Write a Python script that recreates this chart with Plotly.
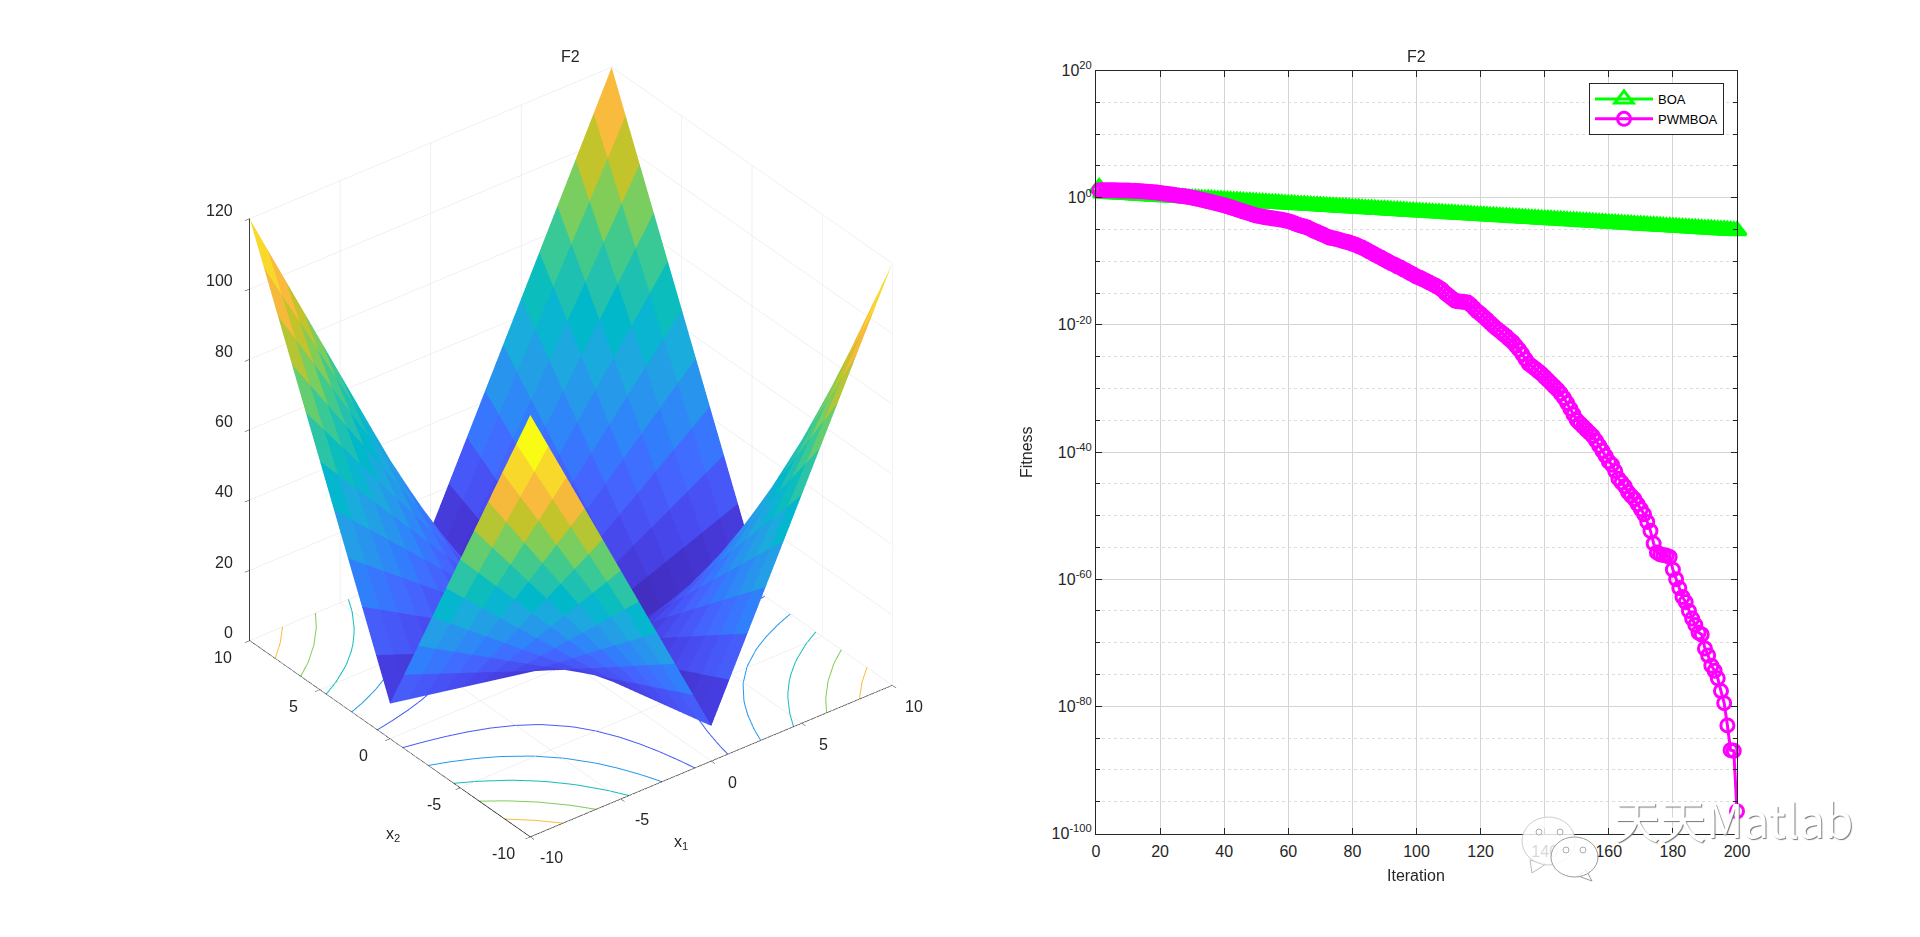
import plotly.graph_objects as go

# ---------- data: left surface ----------
GRID = list(range(-10, 11))
Z_QUADRANT = [
    [0, 1, 2, 3, 4, 5, 6, 7, 8, 9, 10],
    [1, 3, 5, 7, 9, 11, 13, 15, 17, 19, 21],
    [2, 5, 8, 11, 14, 17, 20, 23, 26, 29, 32],
    [3, 7, 11, 15, 19, 23, 27, 31, 35, 39, 43],
    [4, 9, 14, 19, 24, 29, 34, 39, 44, 49, 54],
    [5, 11, 17, 23, 29, 35, 41, 47, 53, 59, 65],
    [6, 13, 20, 27, 34, 41, 48, 55, 62, 69, 76],
    [7, 15, 23, 31, 39, 47, 55, 63, 71, 79, 87],
    [8, 17, 26, 35, 44, 53, 62, 71, 80, 89, 98],
    [9, 19, 29, 39, 49, 59, 69, 79, 89, 99, 109],
    [10, 21, 32, 43, 54, 65, 76, 87, 98, 109, 120],
]
CONTOUR_LEVELS = [20, 40, 60, 80, 100]
AXIS_TICKS = [-10, -5, 0, 5, 10]
Z_TICKS = [0, 20, 40, 60, 80, 100, 120]

# ---------- data: right convergence curves (log10 of fitness) ----------
ITER = list(range(1, 201))
BOA_LOG = [
    1.60, .72, .69, .66, .63, .60, .57, .54, .51, .48,
    .45, .42, .39, .36, .33, .30, .27, .24, .21, .18,
    .16, .13, .10, .07, .04, .01, -.02, -.05, -.08, -.11,
    -.14, -.17, -.20, -.23, -.26, -.29, -.32, -.35, -.38, -.41,
    -.44, -.47, -.50, -.53, -.56, -.59, -.62, -.65, -.68, -.71,
    -.74, -.77, -.80, -.83, -.86, -.89, -.92, -.95, -.98, -1.01,
    -1.04, -1.07, -1.10, -1.13, -1.16, -1.19, -1.22, -1.25, -1.28, -1.31,
    -1.34, -1.37, -1.40, -1.43, -1.46, -1.49, -1.52, -1.55, -1.58, -1.61,
    -1.64, -1.67, -1.70, -1.73, -1.76, -1.79, -1.82, -1.85, -1.88, -1.91,
    -1.94, -1.97, -2.00, -2.03, -2.06, -2.09, -2.12, -2.15, -2.18, -2.21,
    -2.24, -2.27, -2.30, -2.33, -2.36, -2.39, -2.42, -2.45, -2.48, -2.51,
    -2.54, -2.57, -2.60, -2.63, -2.66, -2.69, -2.72, -2.75, -2.78, -2.81,
    -2.84, -2.87, -2.90, -2.93, -2.96, -2.99, -3.02, -3.05, -3.08, -3.11,
    -3.14, -3.17, -3.20, -3.23, -3.26, -3.29, -3.32, -3.35, -3.38, -3.41,
    -3.44, -3.47, -3.50, -3.53, -3.56, -3.59, -3.62, -3.65, -3.68, -3.71,
    -3.74, -3.77, -3.80, -3.83, -3.86, -3.89, -3.92, -3.95, -3.98, -4.01,
    -4.04, -4.07, -4.10, -4.13, -4.16, -4.19, -4.22, -4.25, -4.28, -4.31,
    -4.34, -4.37, -4.40, -4.43, -4.46, -4.49, -4.52, -4.55, -4.58, -4.61,
    -4.64, -4.67, -4.70, -4.73, -4.76, -4.79, -4.82, -4.85, -4.88, -4.91,
    -4.94, -4.97, -5.00, -5.03, -5.06, -5.09, -5.12, -5.15, -5.18, -5.21,
]
PWMBOA_LOG = [
    1.15, 1.15, 1.15, 1.15, 1.15, 1.15, 1.14, 1.13, 1.13, 1.12,
    1.10, 1.08, 1.05, 1.02, .98, .94, .90, .85, .80, .73,
    .67, .60, .53, .46, .39, .32, .25, .18, .09, .00,
    -.10, -.22, -.34, -.46, -.58, -.70, -.82, -.94, -1.06, -1.20,
    -1.35, -1.52, -1.68, -1.85, -2.00, -2.18, -2.32, -2.48, -2.65, -2.80,
    -2.90, -3.00, -3.08, -3.16, -3.24, -3.30, -3.38, -3.48, -3.58, -3.70,
    -3.85, -4.05, -4.25, -4.40, -4.55, -4.70, -4.95, -5.20, -5.40, -5.65,
    -5.85, -6.10, -6.30, -6.40, -6.50, -6.65, -6.80, -6.95, -7.05, -7.25,
    -7.40, -7.65, -7.85, -8.10, -8.40, -8.65, -8.95, -9.20, -9.45, -9.75,
    -10.0, -10.3, -10.5, -10.8, -11.0, -11.3, -11.55, -11.85, -12.1, -12.4,
    -12.6, -12.85, -13.1, -13.35, -13.6, -13.85, -14.15, -14.5, -15.0, -15.4,
    -15.8, -16.2, -16.3, -16.35, -16.4, -16.5, -16.9, -17.4, -17.9, -18.3,
    -18.75, -19.2, -19.7, -20.15, -20.6, -21.0, -21.4, -21.8, -22.3, -22.7,
    -23.3, -23.9, -24.6, -25.4, -26.1, -26.5, -26.9, -27.3, -27.7, -28.2,
    -28.7, -29.2, -29.7, -30.2, -30.8, -31.5, -32.3, -33.2, -34.1, -35.0,
    -35.5, -36.0, -36.5, -37.0, -37.5, -38.2, -39.0, -39.8, -40.6, -41.5,
    -42.0, -43.0, -44.2, -44.8, -45.4, -46.3, -46.9, -47.4, -48.2, -49.0,
    -49.8, -51.0, -52.4, -54.4, -55.8, -56.1, -56.2, -56.3, -56.5, -58.5,
    -60.0, -61.4, -62.8, -63.6, -65.0, -66.2, -67.2, -68.4, -68.7, -70.9,
    -72.0, -73.6, -74.4, -75.6, -77.6, -79.5, -83.0, -86.9, -87.0, -96.5,
]
X_TICKS = [0, 20, 40, 60, 80, 100, 120, 140, 160, 180, 200]
Y_MAJOR_EXP = [20, 0, -20, -40, -60, -80, -100]
Y_MINOR_EXP = [15, 10, 5, -5, -10, -15, -25, -30, -35, -45, -50, -55, -65, -70, -75, -85, -90, -95]

PARULA = [
    (.2422, .1504, .6603), (.2504, .1650, .7076), (.2578, .1818, .7511), (.2647, .1978, .7952),
    (.2706, .2147, .8364), (.2751, .2342, .8710), (.2783, .2559, .8991), (.2803, .2782, .9221),
    (.2813, .3006, .9414), (.2810, .3228, .9579), (.2795, .3447, .9717), (.2760, .3667, .9829),
    (.2699, .3892, .9906), (.2602, .4123, .9952), (.2440, .4358, .9988), (.2206, .4603, .9973),
    (.1963, .4847, .9892), (.1834, .5074, .9798), (.1786, .5289, .9682), (.1764, .5499, .9520),
    (.1687, .5703, .9359), (.1540, .5902, .9218), (.1460, .6091, .9079), (.1380, .6276, .8973),
    (.1248, .6459, .8883), (.1113, .6635, .8763), (.0952, .6798, .8598), (.0689, .6948, .8394),
    (.0297, .7082, .8163), (.0036, .7203, .7917), (.0067, .7312, .7660), (.0433, .7411, .7394),
    (.0964, .7500, .7120), (.1408, .7584, .6842), (.1717, .7670, .6554), (.1938, .7758, .6251),
    (.2161, .7843, .5923), (.2470, .7918, .5567), (.2906, .7973, .5188), (.3406, .8008, .4789),
    (.3909, .8029, .4354), (.4456, .8024, .3909), (.5044, .7993, .3480), (.5616, .7942, .3045),
    (.6174, .7876, .2612), (.6720, .7793, .2227), (.7242, .7698, .1910), (.7738, .7598, .1646),
    (.8203, .7498, .1535), (.8634, .7406, .1596), (.9035, .7330, .1774), (.9393, .7288, .2100),
    (.9728, .7298, .2394), (.9956, .7434, .2371), (.9970, .7659, .2199), (.9952, .7893, .2028),
    (.9892, .8136, .1885), (.9786, .8386, .1766), (.9676, .8639, .1643), (.9610, .8890, .1537),
    (.9597, .9135, .1423), (.9628, .9373, .1265), (.9691, .9606, .1064), (.9769, .9839, .0805),
]
COLORSCALE = [[i / (len(PARULA) - 1), "rgb(%d,%d,%d)" % tuple(round(c * 255) for c in p)]
              for i, p in enumerate(PARULA)]

# ---------- build the surface from the table ----------
n = len(GRID)
zval = [[Z_QUADRANT[abs(GRID[iy])][abs(GRID[ix])] for ix in range(n)] for iy in range(n)]
vx, vy, vz = [], [], []
for iy in range(n):
    for ix in range(n):
        vx.append(GRID[ix]); vy.append(GRID[iy]); vz.append(zval[iy][ix])
ti, tj, tk, cell = [], [], [], []
for iy in range(n - 1):
    for ix in range(n - 1):
        a = iy * n + ix; b = a + 1; c = a + n; d = c + 1
        ti += [a, a]; tj += [b, d]; tk += [d, c]
        cell += [zval[iy][ix], zval[iy][ix]]

fig = go.Figure()
fig.add_trace(go.Mesh3d(
    x=vx, y=vy, z=vz, i=ti, j=tj, k=tk,
    intensity=cell, intensitymode="cell", colorscale=COLORSCALE, cmin=0, cmax=120,
    showscale=False, flatshading=True, hoverinfo="skip",
    lighting=dict(ambient=1, diffuse=0, specular=0, roughness=1, fresnel=0),
    scene="scene",
))

# contour lines on the floor, cut from the same table
def crossing(p, q, zp, zq, lev):
    t = (lev - zp) / (zq - zp)
    return (p[0] + t * (q[0] - p[0]), p[1] + t * (q[1] - p[1]))

for lev in CONTOUR_LEVELS:
    lx, ly = [], []
    for iy in range(n - 1):
        for ix in range(n - 1):
            corners = [(ix, iy), (ix + 1, iy), (ix + 1, iy + 1), (ix, iy + 1)]
            pts = []
            for m in range(4):
                c0, c1 = corners[m], corners[(m + 1) % 4]
                z0, z1 = zval[c0[1]][c0[0]], zval[c1[1]][c1[0]]
                if (z0 < lev) != (z1 < lev):
                    pts.append(crossing((GRID[c0[0]], GRID[c0[1]]), (GRID[c1[0]], GRID[c1[1]]), z0, z1, lev))
            if len(pts) == 2:
                lx += [pts[0][0], pts[1][0], None]
                ly += [pts[0][1], pts[1][1], None]
    fig.add_trace(go.Scatter3d(
        x=lx, y=ly, z=[0 if v is not None else None for v in lx], mode="lines",
        line=dict(width=2, color=[lev] * len(lx), colorscale=COLORSCALE, cmin=0, cmax=120),
        showlegend=False, hoverinfo="skip", scene="scene",
    ))

# ---------- right chart ----------
fig.add_trace(go.Scatter(
    x=ITER, y=[10 ** v for v in BOA_LOG], name="BOA", mode="lines+markers",
    line=dict(color="#00FF00", width=3),
    marker=dict(symbol="triangle-up-open", size=16, color="#00FF00", line=dict(color="#00FF00", width=3)),
    cliponaxis=False, xaxis="x", yaxis="y", hoverinfo="skip",
))
fig.add_trace(go.Scatter(
    x=ITER, y=[10 ** v for v in PWMBOA_LOG], name="PWMBOA", mode="lines+markers",
    line=dict(color="#FF00FF", width=3),
    marker=dict(symbol="circle-open", size=13, color="#FF00FF", line=dict(color="#FF00FF", width=3)),
    cliponaxis=False, xaxis="x", yaxis="y", hoverinfo="skip",
))

FIG_W, FIG_H, PAD = 1904, 921, 8
FONT = "Liberation Sans, Arial, sans-serif"
DARK = "#262626"
def px(x): return (x - PAD) / FIG_W
def py(y): return 1 - (y - PAD) / FIG_H

def note(x, y, text, size=16, **kw):
    return dict(x=px(x), y=py(y), xref="paper", yref="paper", text=text, showarrow=False,
                xanchor="center", yanchor="middle",
                font=dict(family=FONT, size=size, color=DARK), **kw)

axis3d = dict(
    showbackground=False, showgrid=True, gridcolor="#e2e2e2", gridwidth=1,
    showline=True, linecolor="#000000", linewidth=1.5, zeroline=False, showspikes=False,
    ticks="outside", ticklen=6, tickcolor=DARK, tickwidth=1,
    showticklabels=False, title=dict(text=""),
)

def tick3d(x, y, z, text, xshift, yshift, anchor="center"):
    return dict(x=x, y=y, z=z, text=text, showarrow=False, xanchor=anchor, yanchor="middle",
                xshift=xshift, yshift=yshift, font=dict(family=FONT, size=16, color=DARK))

scene_notes = (
    [tick3d(t, -10, 0, str(t), 22, -21) for t in AXIS_TICKS]
    + [tick3d(-10, t, 0, str(t), -26, -17) for t in AXIS_TICKS]
    + [tick3d(-10, 10, t, str(t), -14, 8, "right") for t in Z_TICKS]
)

wm_font = dict(family="Noto Sans CJK SC, Liberation Sans", size=46, color="#ffffff", shadow="1px 1px 1px #777")
R = 1.74

def bubble(x0, x1, y0, y1, edge):
    return dict(type="circle", xref="paper", yref="paper", x0=px(x0), x1=px(x1), y0=py(y1), y1=py(y0),
                fillcolor="rgba(255,255,255,0.82)", line=dict(color=edge, width=1))

def eye(x, y):
    return dict(type="circle", xref="paper", yref="paper", x0=px(x - 3), x1=px(x + 3), y0=py(y + 3), y1=py(y - 3),
                fillcolor="white", line=dict(color="#aaaaaa", width=1))

def tail(points, edge):
    path = "M " + " L ".join("%.5f %.5f" % (px(a), py(b)) for a, b in points) + " Z"
    return dict(type="path", xref="paper", yref="paper", path=path, fillcolor="white", line=dict(color=edge, width=1))

fig.update_layout(
    width=FIG_W, height=FIG_H, autosize=False,
    paper_bgcolor="white", plot_bgcolor="white",
    margin=dict(l=0, r=0, t=0, b=0, autoexpand=False),
    showlegend=True,
    legend=dict(x=px(1724), y=py(83), xanchor="right", yanchor="top",
                bordercolor=DARK, borderwidth=1, bgcolor="white",
                font=dict(family=FONT, size=13, color="#000000"),
                itemwidth=58, tracegroupgap=0),
    scene=dict(
        domain=dict(x=[px(30.5), px(1110.5)], y=[py(896), py(8)]),
        xaxis=dict(axis3d, range=[-10, 10], tickvals=AXIS_TICKS),
        yaxis=dict(axis3d, range=[-10, 10], tickvals=AXIS_TICKS),
        zaxis=dict(axis3d, range=[0, 120], tickvals=Z_TICKS),
        aspectmode="manual", aspectratio=dict(x=1.031, y=1.033, z=1.13),
        camera=dict(projection=dict(type="orthographic"),
                    up=dict(x=0, y=0, z=1), center=dict(x=0, y=0, z=0),
                    eye=dict(x=-0.612 * 0.841 * R, y=-0.791 * 0.841 * R, z=0.541 * R)),
        bgcolor="rgba(0,0,0,0)",
        annotations=scene_notes,
    ),
    xaxis=dict(
        domain=[px(1096), px(1737)], range=[0, 200], tickvals=X_TICKS,
        showline=True, linecolor=DARK, linewidth=1, mirror="allticks",
        ticks="inside", ticklen=6, tickcolor=DARK, showgrid=True, gridcolor="#d4d4d4", zeroline=False,
        tickfont=dict(family=FONT, size=16, color=DARK), ticklabelstandoff=3,
    ),
    yaxis=dict(
        domain=[py(833.5), py(70.5)], type="log", range=[-100, 20],
        tickvals=[10.0 ** e for e in Y_MAJOR_EXP],
        ticktext=["10<sup>%d</sup>" % e for e in Y_MAJOR_EXP],
        showline=True, linecolor=DARK, linewidth=1, mirror="allticks",
        ticks="inside", ticklen=6, tickcolor=DARK, showgrid=True, gridcolor="#d4d4d4", zeroline=False,
        tickfont=dict(family=FONT, size=16, color=DARK),
        minor=dict(tickvals=[10.0 ** e for e in Y_MINOR_EXP], ticks="inside", ticklen=4, tickcolor=DARK,
                   showgrid=True, gridcolor="#dddddd", griddash="3px,3px"),
    ),
    annotations=[
        note(570, 56, "F2"),
        note(1416, 56, "F2"),
        note(393, 834, "x<sub>2</sub>"),
        note(681, 842, "x<sub>1</sub>"),
        note(1416, 875, "Iteration"),
        note(1026, 452, "Fitness", textangle=-90),
        dict(x=px(1733), y=py(853), xref="paper", yref="paper", text="天天Matlab", xanchor="center",
             showarrow=False, font=wm_font),
    ],
    shapes=[
        tail([(1530, 860), (1532, 873), (1546, 864)], "#bbbbbb"),
        bubble(1522, 1575, 817, 865, "#cccccc"),
        tail([(1586, 870), (1592, 881), (1578, 876)], "#999999"),
        bubble(1551, 1598, 837, 877, "#999999"),
        eye(1539, 832), eye(1560, 832), eye(1566, 850), eye(1583, 850),
    ],
)
fig.write_html("out.html")
